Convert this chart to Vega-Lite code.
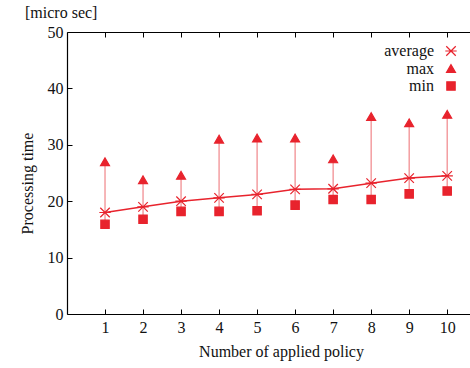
{
  "$schema": "https://vega.github.io/schema/vega-lite/v6.json",
  "width": 403,
  "height": 282,
  "autosize": {"type": "none"},
  "padding": {"left": 67, "top": 32, "right": 0, "bottom": 54},
  "title": {"text": "[micro sec]", "anchor": "start", "frame": "group", "dx": -42, "offset": 3, "font": "Liberation Serif", "fontSize": 16, "fontWeight": "normal", "color": "#111111"},
  "config": {
    "view": {"stroke": null},
    "font": "Liberation Serif",
    "axis": {
      "grid": false,
      "domainColor": "#000000",
      "domainWidth": 1.2,
      "tickColor": "#000000",
      "tickSize": -5,
      "labelFont": "Liberation Serif",
      "labelFontSize": 16,
      "labelColor": "#111111",
      "titleFont": "Liberation Serif",
      "titleFontSize": 16,
      "titleFontWeight": "normal",
      "titleColor": "#111111"
    }
  },
  "data": {
    "values": [
      {"n": 1, "average": 18.0, "max": 27.0, "min": 15.9},
      {"n": 2, "average": 19.0, "max": 23.8, "min": 16.8},
      {"n": 3, "average": 20.0, "max": 24.6, "min": 18.2},
      {"n": 4, "average": 20.6, "max": 31.0, "min": 18.2},
      {"n": 5, "average": 21.2, "max": 31.2, "min": 18.3},
      {"n": 6, "average": 22.1, "max": 31.2, "min": 19.3},
      {"n": 7, "average": 22.2, "max": 27.5, "min": 20.3},
      {"n": 8, "average": 23.2, "max": 35.0, "min": 20.3},
      {"n": 9, "average": 24.1, "max": 33.9, "min": 21.3},
      {"n": 10, "average": 24.5, "max": 35.4, "min": 21.8}
    ]
  },
  "layer": [
    {
      "mark": {"type": "rule", "color": "#f08589", "strokeWidth": 1.2},
      "encoding": {
        "x": {"field": "n", "type": "quantitative", "scale": {"domain": [0, 10.6], "nice": false},
              "axis": {"orient": "top", "values": [1,2,3,4,5,6,7,8,9,10], "labels": false, "title": null}},
        "y": {"field": "min", "type": "quantitative", "scale": {"domain": [0, 50], "nice": false},
              "axis": {"values": [0,10,20,30,40,50], "title": "Processing time", "labelPadding": 9, "titlePadding": 12, "titleY": 151}},
        "y2": {"field": "max"}
      }
    },
    {
      "mark": {"type": "line", "color": "#e8232d", "strokeWidth": 1.5},
      "encoding": {
        "x": {"field": "n", "type": "quantitative",
              "axis": {"orient": "bottom", "values": [1,2,3,4,5,6,7,8,9,10], "title": "Number of applied policy", "labelPadding": 10, "titlePadding": 8, "titleX": 214}},
        "y": {"field": "average", "type": "quantitative"}
      }
    },
    {
      "transform": [{"fold": ["average", "max", "min"], "as": ["series", "value"]}],
      "mark": {"type": "point", "filled": true, "color": "#e8232d", "stroke": "#e8232d", "strokeWidth": 1.2, "opacity": 1},
      "encoding": {
        "x": {"field": "n", "type": "quantitative", "axis": null},
        "y": {"field": "value", "type": "quantitative"},
        "shape": {"field": "series", "type": "nominal",
                  "scale": {"domain": ["average", "max", "min"], "range": ["M-1,-1L1,1M-1,1L1,-1M-1.2,0L1.2,0", "triangle-up", "square"]},
                  "legend": {"orient": "none", "legendX": 376, "legendY": 11, "title": null, "labelAlign": "right", "labelOffset": -25, "labelFontSize": 16, "labelFont": "Liberation Serif", "labelColor": "#111111", "rowPadding": 1.5, "symbolFillColor": "#e8232d", "symbolStrokeColor": "#e8232d", "symbolStrokeWidth": 1.2}},
        "size": {"field": "series", "type": "nominal",
                 "scale": {"domain": ["average", "max", "min"], "range": [90, 70, 45]}}
      }
    }
  ]
}
